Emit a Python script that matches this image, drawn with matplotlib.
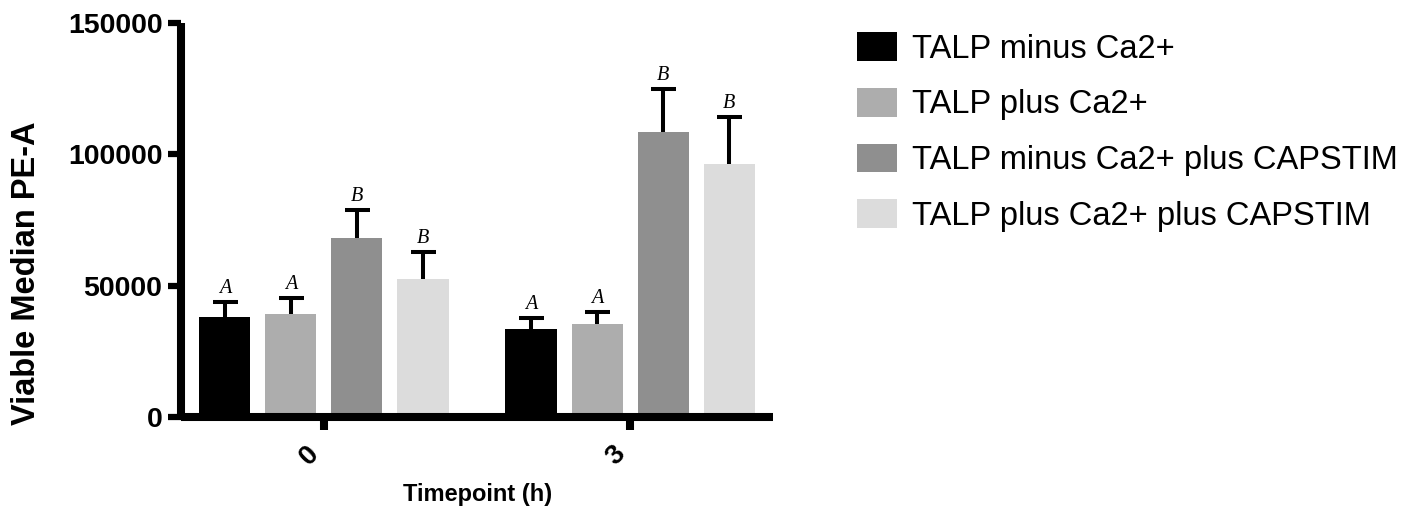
import matplotlib
matplotlib.use("Agg")
import matplotlib.pyplot as plt
import numpy as np

timepoints = ["0", "3"]
series = ["TALP minus Ca2+", "TALP plus Ca2+",
          "TALP minus Ca2+ plus CAPSTIM", "TALP plus Ca2+ plus CAPSTIM"]
means = [
    [38000, 33500],
    [39200, 35400],
    [68100, 108400],
    [52500, 96200],
]
errors = [
    [5700, 4100],
    [6000, 4500],
    [10600, 16300],
    [10200, 17800],
]
letters = [
    ["A", "A"],
    ["A", "A"],
    ["B", "B"],
    ["B", "B"],
]
colors = ["#000000", "#adadad", "#8f8f8f", "#dcdcdc"]

plt.rcParams['font.family'] = ['Liberation Sans', 'DejaVu Sans']

fig = plt.figure(figsize=(14.24, 5.18), dpi=100)
ax = fig.add_axes([181/1424, 101/518, 592/1424, 394.5/518])

x = np.arange(len(timepoints))
step = 0.2157
width = 0.1667
lw = 2.9
for i, (name, m, e, c) in enumerate(zip(series, means, errors, colors)):
    xs = x + (i - 1.5) * step
    ax.bar(xs, m, width=width, color=c, edgecolor='none', label=name, zorder=2)
    _, caps, _ = ax.errorbar(xs, m, yerr=[np.zeros(len(m)), e], fmt='none',
                             ecolor='black', elinewidth=lw, capsize=9,
                             capthick=lw, zorder=3)
    caps[0].set_visible(False)  # only the upper cap
    for xi, mi, ei, L in zip(xs, m, e, letters[i]):
        ax.annotate(L, (xi, mi + ei), xytext=(0, 6.5), textcoords='offset points',
                    ha='center', va='baseline', fontsize=14.5, style='italic',
                    family=['Liberation Serif', 'DejaVu Serif'], color='black')

ax.set_xlim(-0.467, 1.467)
ax.set_ylim(0, 150000)
ax.set_yticks([0, 50000, 100000, 150000])
ax.set_yticklabels(["0", "50000", "100000", "150000"], fontsize=20.5, fontweight='bold')
ax.set_xticks(x)
ax.set_xticklabels(timepoints, fontsize=20, fontweight='bold', rotation=45, ha='right')

for s in ['top', 'right']:
    ax.spines[s].set_visible(False)
for s in ['left', 'bottom']:
    ax.spines[s].set_linewidth(5.8)
    ax.spines[s].set_capstyle('butt')
    ax.spines[s].set_zorder(4)
ax.tick_params(axis='y', length=9.4, width=4.5, pad=4)
ax.tick_params(axis='x', length=9.4, width=5.8, pad=8)

ax.set_ylabel("Viable Median PE-A", fontsize=23.5, fontweight='bold')
ax.yaxis.label.set_va('center')
ax.yaxis.set_label_coords((27-181)/592, (417-273)/394.5)
ax.set_xlabel("Timepoint (h)", fontsize=17, fontweight='bold')
ax.xaxis.label.set_va('center')
ax.xaxis.set_label_coords((478-181)/592, (417-494)/394.5)

leg = ax.legend(loc='upper left', bbox_to_anchor=(857/1424, 1 - 32/518),
                bbox_transform=fig.transFigure, frameon=False, fontsize=23.5,
                handlelength=1.23, handleheight=0.98, handletextpad=0.46,
                labelspacing=0.71, borderpad=0, borderaxespad=0)

fig.savefig("out.png", dpi=100)
